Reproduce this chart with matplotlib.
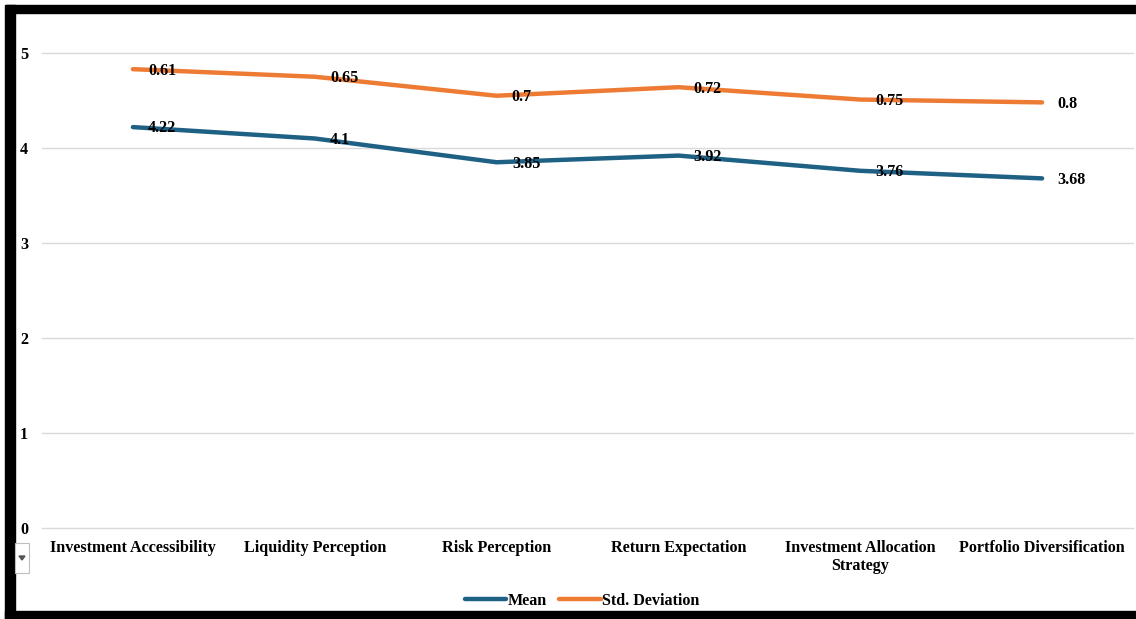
import matplotlib
matplotlib.use("Agg")
import matplotlib.pyplot as plt
from matplotlib.patches import Rectangle, Polygon
import numpy as np

categories = ["Investment Accessibility", "Liquidity Perception", "Risk Perception",
              "Return Expectation", "Investment Allocation\nStrategy", "Portfolio Diversification"]
mean_vals = [4.22, 4.1, 3.85, 3.92, 3.76, 3.68]
std_vals = [0.61, 0.65, 0.7, 0.72, 0.75, 0.8]
y_ticks = [0, 1, 2, 3, 4, 5]

BLUE = "#1f6185"
ORANGE = "#ee7b34"
FONT = "Liberation Serif"
FS = 11.6

W, H = 1136, 619
fig = plt.figure(figsize=(W / 100, H / 100), dpi=100)
fig.patch.set_facecolor("white")

# plot area in pixels: x 42..1133, y(0)=528, y(5)=53
x0, x1 = 42, 1133
y_top, y_bot = 53, 528
ymax = 5.0
ax = fig.add_axes([x0 / W, 1 - y_bot / H, (x1 - x0) / W, (y_bot - y_top) / H])

x = np.arange(len(categories))
stacked = np.array(mean_vals) + np.array(std_vals)

ax.plot(x, mean_vals, color=BLUE, lw=3.2, solid_capstyle="round", zorder=3, label="Mean")
ax.plot(x, stacked, color=ORANGE, lw=3.2, solid_capstyle="round", zorder=3, label="Std. Deviation")

for xi, m, s, st in zip(x, mean_vals, std_vals, stacked):
    ax.annotate(f"{m:g}", (xi, m), xytext=(11, -1), textcoords="offset points",
                ha="left", va="center", fontsize=FS, fontweight="bold",
                family=FONT, color="black", zorder=4)
    ax.annotate(f"{s:g}", (xi, st), xytext=(11, -1), textcoords="offset points",
                ha="left", va="center", fontsize=FS, fontweight="bold",
                family=FONT, color="black", zorder=4)

ax.set_xlim(-0.5, len(categories) - 0.5)
ax.set_ylim(0, ymax)
ax.set_yticks(y_ticks)
ax.set_yticklabels([str(t) for t in y_ticks], fontsize=FS, fontweight="bold", family=FONT)
ax.set_xticks(x)
ax.set_xticklabels(categories, fontsize=FS, fontweight="bold", family=FONT, linespacing=1.15)
ax.tick_params(axis="both", length=0)
ax.tick_params(axis="y", pad=10)
ax.tick_params(axis="x", pad=9)
ax.grid(axis="y", color="#d9d9d9", lw=1)
for gl in ax.get_ygridlines():
    gl.set_clip_on(False)
ax.set_axisbelow(True)
for sp in ax.spines.values():
    sp.set_visible(False)

leg = fig.legend(loc="center", bbox_to_anchor=(582 / W, 1 - 601 / H), ncol=2, frameon=False,
                 prop={"family": FONT, "weight": "bold", "size": FS},
                 handlelength=2.6, handletextpad=0.05, columnspacing=0.8)

# black frame (top, left, bottom)
def px_rect(xa, ya, xb, yb, **kw):
    fig.patches.append(Rectangle((xa / W, 1 - yb / H), (xb - xa) / W, (yb - ya) / H,
                                 transform=fig.transFigure, figure=fig, **kw))

px_rect(6, 5, W, 13, color="black", zorder=10)
px_rect(5, 5, 15, H, color="black", zorder=10)
px_rect(5, 611, W, H, color="black", zorder=10)

# small dropdown button artifact
px_rect(15, 543, 29, 573, facecolor="white", edgecolor="#bfbfbf", lw=0.8, zorder=10)
fig.patches.append(Polygon([[19 / W, 1 - 556 / H], [25 / W, 1 - 556 / H], [22 / W, 1 - 560 / H]],
                           closed=True, transform=fig.transFigure, figure=fig,
                           color="#555555", zorder=11))

fig.savefig("out.png", dpi=100)
